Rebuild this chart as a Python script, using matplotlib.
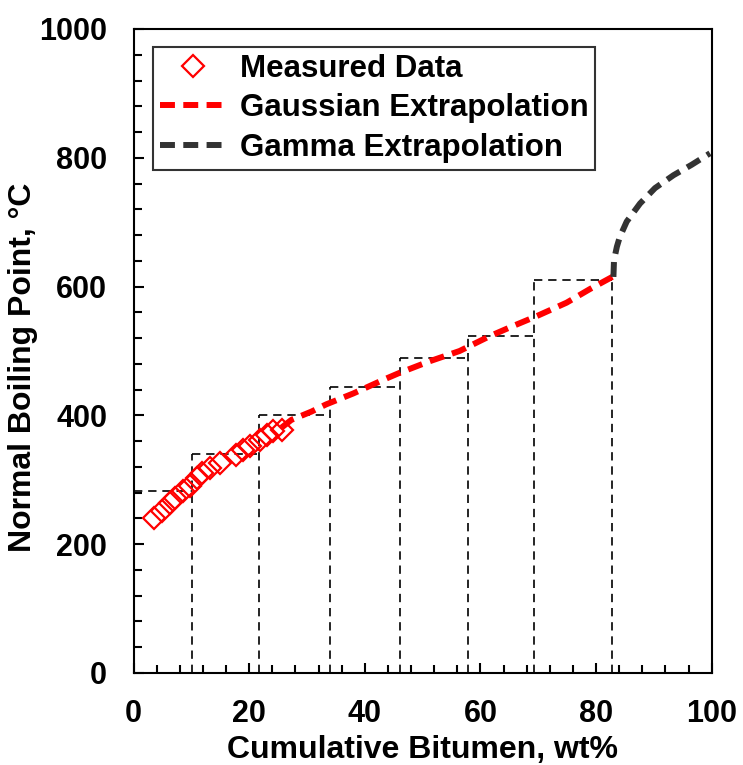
import matplotlib
matplotlib.use("Agg")
import matplotlib.pyplot as plt
from matplotlib.ticker import MultipleLocator

# measured boiling points (cumulative wt%, degC)
meas_x = [3.5, 4.9, 6.3, 7.2, 8.6, 9.8, 10.9, 11.8, 13.2, 15.0, 17.8, 19.0, 20.1, 21.9, 23.0, 24.2, 25.6]
meas_y = [241, 251, 264, 272, 282, 291, 303, 311, 318, 326, 339, 347, 352, 362, 370, 375, 378]

# gaussian extrapolation
gauss_x = [25.6, 27.3, 30.8, 33.3, 38.0, 43.4, 46.0, 51.2, 56.4, 61.6, 65.7, 69.7, 74.9, 78.9, 83.0]
gauss_y = [381, 393, 406, 417, 434, 456, 466, 484, 500, 523, 539, 554, 575, 596, 616]

# gamma extrapolation
gamma_x = [83.0, 83.1, 83.6, 84.1, 85.3, 87.6, 90.2, 93.4, 96.5, 99.7]
gamma_y = [615, 641, 662, 677, 701, 729, 753, 773, 789, 807]

# pseudo-component cuts
cut_edges = [0, 10.2, 21.7, 34.0, 46.1, 57.9, 69.3, 82.8]
cut_nbp = [282, 340, 400, 444, 489, 523, 610]

plt.rcParams['font.family'] = ['Liberation Sans', 'DejaVu Sans']
plt.rcParams['font.weight'] = 'bold'

fig = plt.figure(figsize=(7.43, 7.65), dpi=100)
ax = fig.add_axes([0.1797, 0.1203, 0.7782, 0.8418])

# cut outlines: tops and the walls between them
dash = (0, (5, 3.5))
ax.hlines(cut_nbp, cut_edges[:-1], cut_edges[1:], colors='black',
          linewidth=1.2, linestyles=[dash], zorder=1)
wall_h = [max(cut_nbp[i - 1], cut_nbp[i]) for i in range(1, len(cut_nbp))] + [cut_nbp[-1]]
ax.vlines(cut_edges[1:], 0, wall_h, colors='black', linewidth=1.2,
          linestyles=[dash], zorder=1)

ax.plot(meas_x, meas_y, linestyle='none', marker='D', markersize=11,
        markerfacecolor='none', markeredgecolor='red', markeredgewidth=1.6,
        label='Measured Data', zorder=3)
ax.plot(gauss_x, gauss_y, color='red', linewidth=4.3, dashes=(2.5, 1.4),
        label='Gaussian Extrapolation', zorder=2)
ax.plot(gamma_x, gamma_y, color='#333333', linewidth=4.3, dashes=(2.5, 1.4),
        label='Gamma Extrapolation', zorder=2)

ax.set_xlim(0, 100)
ax.set_ylim(0, 1000)
ax.xaxis.set_major_locator(MultipleLocator(20))
ax.xaxis.set_minor_locator(MultipleLocator(4))
ax.yaxis.set_major_locator(MultipleLocator(200))
ax.yaxis.set_minor_locator(MultipleLocator(40))
ax.tick_params(which='both', direction='in', width=1.5, labelsize=22, pad=19)
ax.tick_params(which='major', length=7)
ax.tick_params(which='minor', length=6)
for sp in ax.spines.values():
    sp.set_linewidth(1.5)

ax.set_xlabel('Cumulative Bitumen, wt%', fontsize=23, fontweight='bold', labelpad=4)
ax.set_ylabel('Normal Boiling Point, \u00b0C', fontsize=23, fontweight='bold')
ax.yaxis.set_label_coords(-0.165, 0.475)

leg = ax.legend(loc='upper left', bbox_to_anchor=(0.034, 0.972), borderaxespad=0,
                fontsize=22.5, numpoints=1, fancybox=False, handlelength=2.1,
                handletextpad=0.45, labelspacing=0.3, borderpad=0.22)
leg.get_frame().set_edgecolor('black')
leg.get_frame().set_linewidth(1.5)

fig.savefig('out.png', dpi=100)
